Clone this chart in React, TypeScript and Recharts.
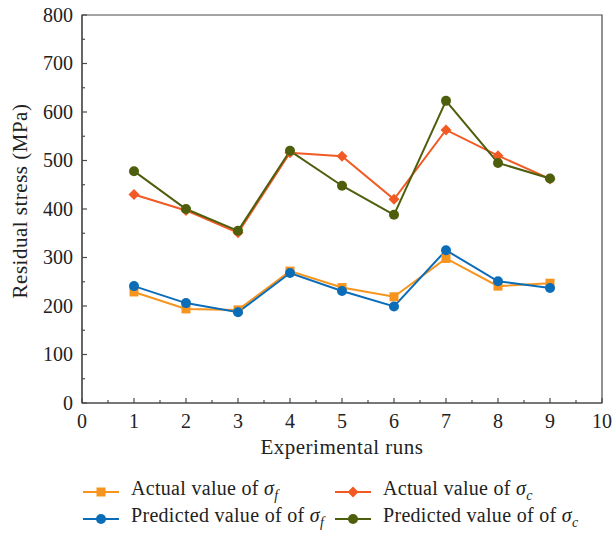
import React from "react";
import {
  LineChart,
  Line,
  XAxis,
  YAxis,
  ReferenceArea,
} from "recharts";

const runs = [1, 2, 3, 4, 5, 6, 7, 8, 9];
const actualSigmaF = [229, 194, 192, 272, 238, 219, 298, 241, 247];
const predictedSigmaF = [241, 206, 187, 268, 231, 199, 315, 251, 237];
const actualSigmaC = [430, 397, 351, 516, 509, 420, 563, 510, 462];
const predictedSigmaC = [478, 400, 355, 520, 448, 388, 623, 495, 463];

const xTicks = [0, 0.5, 1, 1.5, 2, 2.5, 3, 3.5, 4, 4.5, 5, 5.5, 6, 6.5, 7, 7.5, 8, 8.5, 9, 9.5, 10];
const yTicks = [0, 50, 100, 150, 200, 250, 300, 350, 400, 450, 500, 550, 600, 650, 700, 750, 800];

const data = runs.map((run, i) => ({
  run,
  actualF: actualSigmaF[i],
  predF: predictedSigmaF[i],
  actualC: actualSigmaC[i],
  predC: predictedSigmaC[i],
}));

const COLORS = {
  actualF: "#F7941D",
  predF: "#0B6CB8",
  actualC: "#F15A24",
  predC: "#4D5E0C",
};

const AXIS = "#4a4a4a";
const FONT = "'Liberation Serif', 'DejaVu Serif', serif";

type Shape = "square" | "circle" | "diamond";

const Marker = ({ cx, cy, color, shape }: { cx: number; cy: number; color: string; shape: Shape }) => {
  if (shape === "square") {
    return <rect x={cx - 4.5} y={cy - 4.5} width={9} height={9} fill={color} />;
  }
  if (shape === "diamond") {
    return (
      <polygon
        points={`${cx},${cy - 5.5} ${cx + 5.5},${cy} ${cx},${cy + 5.5} ${cx - 5.5},${cy}`}
        fill={color}
      />
    );
  }
  return <circle cx={cx} cy={cy} r={5} fill={color} />;
};

const makeDot = (color: string, shape: Shape) => (props: any) => {
  const { cx, cy, index } = props;
  if (cx == null || cy == null) return <g key={index} />;
  return <Marker key={index} cx={cx} cy={cy} color={color} shape={shape} />;
};

// inward ticks, labels only on whole runs
const XTick = (props: any) => {
  const { x, y, payload } = props;
  const major = Number.isInteger(payload.value);
  return (
    <g>
      <line x1={x} y1={y} x2={x} y2={y - (major ? 5 : 3)} stroke={AXIS} strokeWidth={1.2} />
      {major && (
        <text x={x} y={y + 25} textAnchor="middle" fontSize={20} fontFamily={FONT} fill="#222">
          {payload.value}
        </text>
      )}
    </g>
  );
};

const YTick = (props: any) => {
  const { x, y, payload } = props;
  const major = payload.value % 100 === 0;
  return (
    <g>
      <line x1={x} y1={y} x2={x + (major ? 5 : 3)} y2={y} stroke={AXIS} strokeWidth={1.2} />
      {major && (
        <text x={x - 9} y={y + 6.5} textAnchor="end" fontSize={20} fontFamily={FONT} fill="#222">
          {payload.value}
        </text>
      )}
    </g>
  );
};

const Sigma = ({ sub }: { sub: string }) => (
  <span>
    <i>σ</i>
    <sub style={{ fontStyle: "italic", fontSize: 14, verticalAlign: "-5px" }}>{sub}</sub>
  </span>
);

const legendItems = [
  { key: "actualF", label: "Actual value of ", sub: "f", shape: "square" as Shape, left: 83, top: 477 },
  { key: "actualC", label: "Actual value of ", sub: "c", shape: "diamond" as Shape, left: 335, top: 477 },
  { key: "predF", label: "Predicted value of of ", sub: "f", shape: "circle" as Shape, left: 83, top: 504 },
  { key: "predC", label: "Predicted value of of ", sub: "c", shape: "circle" as Shape, left: 335, top: 504 },
];

const LegendBlock = () => (
  <>
    {legendItems.map((it) => {
      const color = COLORS[it.key as keyof typeof COLORS];
      return (
        <div
          key={it.key}
          style={{
            position: "absolute",
            left: it.left,
            top: it.top,
            display: "flex",
            alignItems: "center",
            fontFamily: FONT,
            fontSize: 20,
            color: "#222",
            whiteSpace: "nowrap",
            lineHeight: "22px",
            letterSpacing: 0.3,
          }}
        >
          <svg width={36} height={14} style={{ marginRight: 12 }}>
            <line x1={0} y1={7} x2={36} y2={7} stroke={color} strokeWidth={2} />
            <Marker cx={18} cy={7} color={color} shape={it.shape} />
          </svg>
          <span>
            {it.label}
            <Sigma sub={it.sub} />
          </span>
        </div>
      );
    })}
  </>
);

export default function App() {
  return (
    <div style={{ position: "absolute", left: 0, top: 0, width: 613, height: 535, background: "#fff" }}>
      <LineChart
        width={613}
        height={535}
        data={data}
        margin={{ top: 15, right: 11, bottom: 82, left: 32 }}
      >
        <XAxis
          type="number"
          dataKey="run"
          domain={[0, 10]}
          ticks={xTicks}
          interval={0}
          height={50}
          tickSize={0}
          tickMargin={0}
          tickLine={false}
          axisLine={{ stroke: AXIS, strokeWidth: 1.2 }}
          tick={<XTick />}
          label={{
            value: "Experimental runs",
            position: "insideBottom",
            offset: -1,
            fontSize: 21,
            fontFamily: FONT,
            fill: "#222",
            style: { letterSpacing: 0.5 },
          }}
        />
        <YAxis
          type="number"
          domain={[0, 800]}
          ticks={yTicks}
          interval={0}
          width={50}
          tickSize={0}
          tickMargin={0}
          tickLine={false}
          axisLine={{ stroke: AXIS, strokeWidth: 1.2 }}
          tick={<YTick />}
          label={{
            value: "Residual stress (MPa)",
            angle: -90,
            position: "insideLeft",
            offset: 0,
            dx: -12,
            dy: -8,
            style: { textAnchor: "middle", letterSpacing: 0.5 },
            fontSize: 21,
            fontFamily: FONT,
            fill: "#222",
          }}
        />
        <ReferenceArea x1={0} x2={10} y1={0} y2={800} fill="none" stroke={AXIS} strokeWidth={1.2} ifOverflow="visible" />
        <Line
          dataKey="actualF"
          stroke={COLORS.actualF}
          strokeWidth={2}
          dot={makeDot(COLORS.actualF, "square")}
          isAnimationActive={false}
        />
        <Line
          dataKey="actualC"
          stroke={COLORS.actualC}
          strokeWidth={2}
          dot={makeDot(COLORS.actualC, "diamond")}
          isAnimationActive={false}
        />
        <Line
          dataKey="predF"
          stroke={COLORS.predF}
          strokeWidth={2}
          dot={makeDot(COLORS.predF, "circle")}
          isAnimationActive={false}
        />
        <Line
          dataKey="predC"
          stroke={COLORS.predC}
          strokeWidth={2}
          dot={makeDot(COLORS.predC, "circle")}
          isAnimationActive={false}
        />
      </LineChart>
      <LegendBlock />
    </div>
  );
}
